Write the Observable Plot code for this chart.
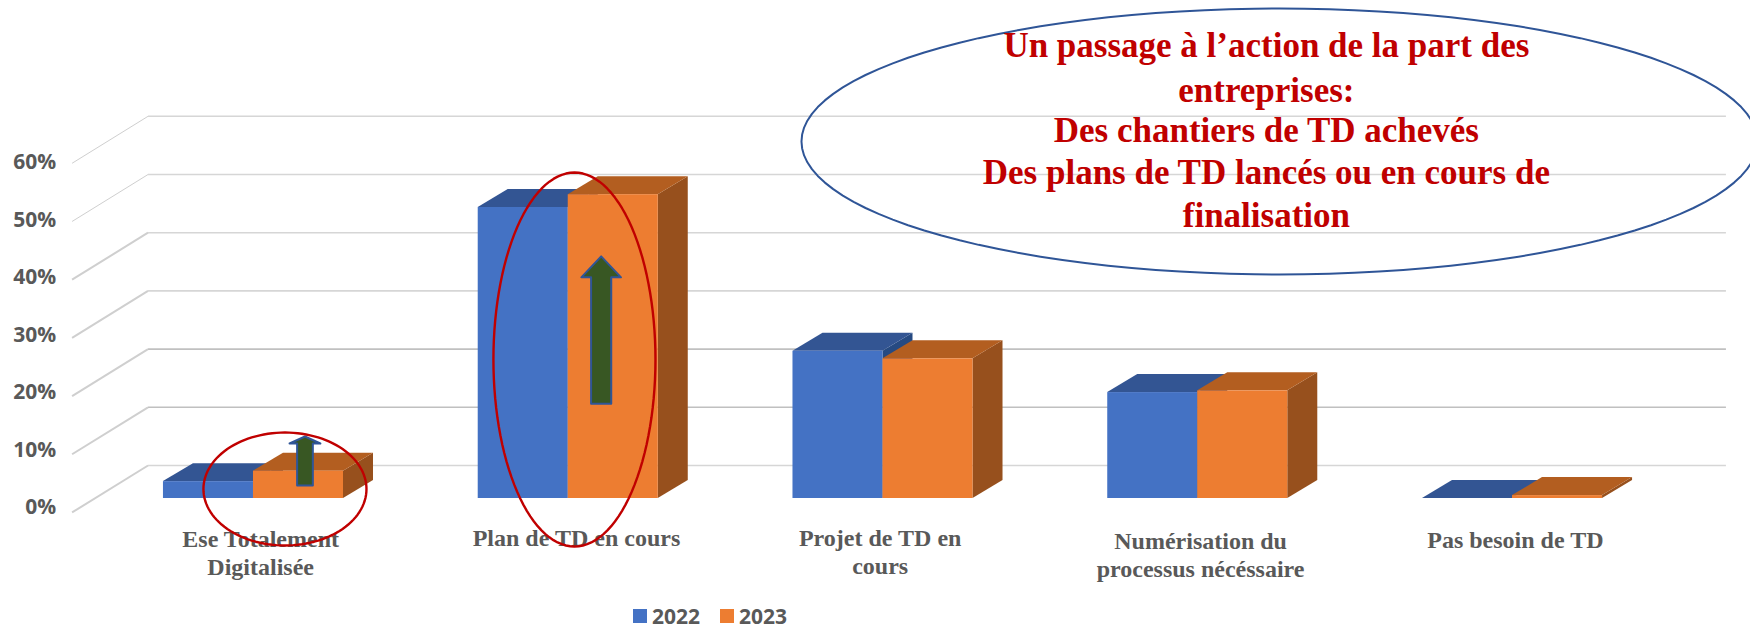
<!DOCTYPE html>
<html>
<head>
<meta charset="utf-8">
<script src="https://cdn.jsdelivr.net/npm/d3@7"></script>
<script src="https://cdn.jsdelivr.net/npm/@observablehq/plot@0.6"></script>
<style>
html,body{margin:0;padding:0;background:#fff;width:1750px;height:627px;overflow:hidden}
#legend{position:relative;height:31px;font:700 21px "Open Sans",sans-serif;color:#595959}
#legend span{position:absolute;top:0;line-height:40px}
#legend i{position:absolute;top:13px;width:14px;height:14px}
</style>
</head>
<body>
<div id="chart"></div>
<div id="legend"></div>
<script>
const categories = ["Ese Totalement\nDigitalisée", "Plan de TD en cours", "Projet de TD en\ncours", "Numérisation du\nprocessus nécéssaire", "Pas besoin de TD"];
const values2022 = [2.9, 50, 25.3, 18.2, 0];
const values2023 = [4.7, 52.2, 24, 18.5, 0.5];
const yTicks = [0, 10, 20, 30, 40, 50, 60];
const tickLabels = ["0%", "10%", "20%", "30%", "40%", "50%", "60%"];
const seriesNames = ["2022", "2023"];
const annotationLines = ["Un passage à l’action de la part des", "entreprises:", "Des chantiers de TD achevés", "Des plans de TD lancés ou en cours de", "finalisation"];
const labelX = [0.0227, 1.026, 1.991, 3.009, 4.009];
const labelY = [-9.26, -6.67, -9.1, -9.54, -6.92];
const annotationY = [77.7, 70.1, 63.2, 55.9, 48.5];

const barHalf = 0.286, depthX = 0.0953, depthY = 3.09;
const wallX = 0.165, wallY = 5.67, frontX = -0.0763, frontY = -2.4;

function faces(values, off) {
  const rows = values.map((v, i) => ({i, v, l: i + off, r: i + off + barHalf}));
  return {
    rows,
    side: rows.flatMap(d => [
      {k: d.i, x: d.r, a: 0, b: d.v},
      {k: d.i, x: d.r + depthX, a: depthY, b: d.v + depthY}]),
    top: rows.flatMap(d => [
      {k: d.i, y: d.v, a: d.l, b: d.r},
      {k: d.i, y: d.v + depthY, a: d.l + depthX, b: d.r + depthX}])
  };
}
function barMarks(values, off, front, top, side) {
  const f = faces(values, off);
  return [
    Plot.area(f.side, {x1: "x", y1: "a", y2: "b", z: "k", fill: side}),
    Plot.area(f.top, {y1: "y", x1: "a", x2: "b", z: "k", fill: top}),
    Plot.rect(f.rows, {x1: "l", x2: "r", y1: () => 0, y2: "v", fill: front})
  ];
}
function ellipse(cx, cy, rx, ry) {
  return d3.range(0, 360, 3).map(t => {
    const a = t * Math.PI / 180;
    return {x: cx + rx * Math.cos(a), y: cy + ry * Math.sin(a)};
  });
}
function arrow(cx, tip, headBase, bottom, headHalf, shaftHalf) {
  return [
    {x: cx, y: tip}, {x: cx + headHalf, y: headBase}, {x: cx + shaftHalf, y: headBase},
    {x: cx + shaftHalf, y: bottom}, {x: cx - shaftHalf, y: bottom}, {x: cx - shaftHalf, y: headBase},
    {x: cx - headHalf, y: headBase}
  ];
}
const gridColor = v => (v === 10 || v === 20) ? "#c0c0c0" : "#d6d6d6";

const chart = Plot.plot({
  width: 1750, height: 596, margin: 0,
  x: {domain: [-0.5, 4.5], range: [95.6, 1669.4], axis: null},
  y: {domain: [0, 60], range: [498, 148.8], axis: null},
  marks: [
    Plot.link(yTicks, {x1: -0.5 + frontX, y1: v => v + frontY, x2: -0.5 + wallX, y2: v => v + wallY,
      stroke: "#cfcfcf", strokeWidth: v => v <= 40 ? 2 : 1}),
    Plot.link(yTicks, {x1: -0.5 + wallX, x2: 4.5 + wallX + 0.013, y1: v => v + wallY, y2: v => v + wallY,
      stroke: gridColor, strokeWidth: 1.6}),
    ...barMarks(values2022, -barHalf, "#4472c4", "#335593", "#264a82"),
    ...barMarks(values2023, 0, "#ed7d31", "#b35e20", "#97501d"),
    Plot.text(yTicks, {x: -0.5 + frontX, y: v => v * 0.988 - 1.55, text: (v, i) => tickLabels[i],
      textAnchor: "end", dx: -16, fontSize: 21, fontWeight: 700, fontFamily: "Open Sans", fill: "#595959"}),
    Plot.text(categories, {x: (d, i) => labelX[i], y: (d, i) => labelY[i], text: d => d,
      lineHeight: 1.17, fontSize: 24, fontWeight: 700, fontFamily: "Liberation Serif", fill: "#595959"}),
    Plot.line(arrow(1.1046, 41.6, 38.0, 16.3, 0.063, 0.032), {x: "x", y: "y", curve: "linear-closed", fill: "#385723", stroke: "#2f5597", strokeWidth: 2}),
    Plot.line(arrow(0.1636, 10.65, 9.45, 2.23, 0.049, 0.025), {x: "x", y: "y", curve: "linear-closed", fill: "#385723", stroke: "#2f5597", strokeWidth: 2}),
    Plot.line(ellipse(0.1, 1.63, 0.259, 9.7), {x: "x", y: "y", curve: "linear-closed", stroke: "#c00000", strokeWidth: 2.4}),
    Plot.line(ellipse(1.0197, 23.88, 0.2574, 32.13), {x: "x", y: "y", curve: "linear-closed", stroke: "#c00000", strokeWidth: 2.4}),
    Plot.line(ellipse(3.2597, 61.34, 1.5187, 22.85), {x: "x", y: "y", curve: "linear-closed", stroke: "#2f5597", strokeWidth: 2}),
    Plot.text(annotationLines, {x: 3.218, y: (d, i) => annotationY[i], text: d => d,
      fontSize: 35, fontWeight: 700, fontFamily: "Liberation Serif", fill: "#c00000"})
  ]
});
document.getElementById("chart").appendChild(chart);
chart.style.display = "block";

const legend = document.getElementById("legend");
[["#4472c4", 633, 652], ["#ed7d31", 720, 739]].forEach(([c, sx, tx], i) => {
  const sw = document.createElement("i");
  sw.style.background = c; sw.style.left = sx + "px";
  const t = document.createElement("span");
  t.textContent = seriesNames[i]; t.style.left = tx + "px";
  legend.append(sw, t);
});
</script>
</body>
</html>
